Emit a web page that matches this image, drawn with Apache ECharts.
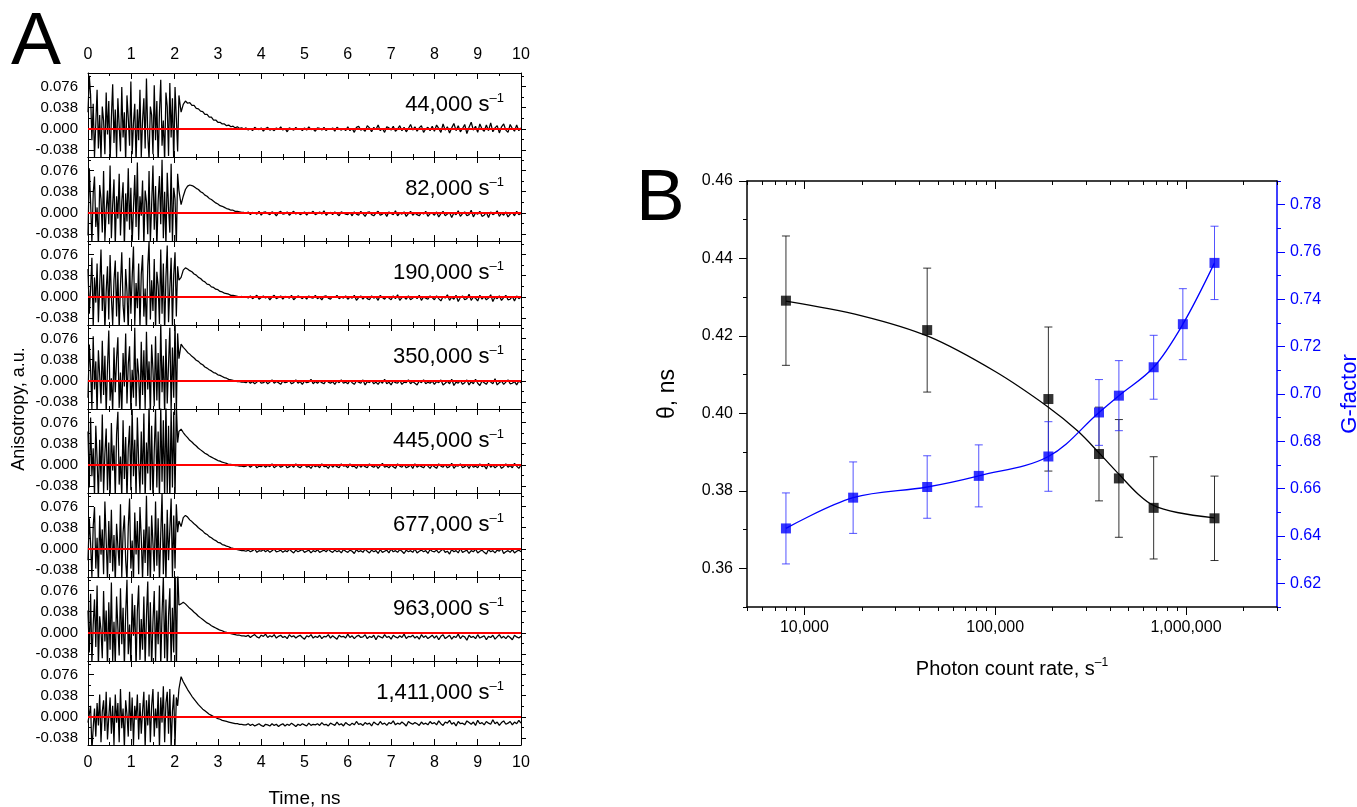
<!DOCTYPE html>
<html><head><meta charset="utf-8">
<script src="https://cdn.jsdelivr.net/npm/echarts@6/dist/echarts.min.js"></script>
<style>html,body{margin:0;padding:0;background:#fff}#c{width:1357px;height:807px}</style>
</head><body><div id="c"></div>
<script>
const FONT = '"Liberation Sans", Arial, Helvetica, sans-serif';

// ---------- Panel A: anisotropy traces (values in units of 0.001) ----------
const rateLabels = ['44,000', '82,000', '190,000', '350,000', '445,000', '677,000', '963,000', '1,411,000'];
const anisoTicks = [-0.038, 0, 0.038, 0.076];
const anisoMinorTicks = [-0.019, 0.019, 0.057, 0.095];

// noisy part before the pulse: t = 0 ... 2.10 ns, step 0.03 ns
const noise44k = [30,95,60,-20,45,-50,10,70,-35,25,-55,40,15,-45,65,-10,50,-60,20,80,-25,35,-50,55,5,-40,75,-15,30,-58,60,20,-30,85,-45,10,45,-60,35,-20,70,-50,15,55,-35,90,-10,-55,40,25,-45,78,-20,50,-62,30,88,-30,15,-58,65,40,-48,82,-15,55,-60,75,20,-40,60];
const noise82k = [-40,80,20,-55,35,65,-25,10,-60,50,25,-35,75,-50,5,40,-20,85,-45,15,60,-58,30,-10,70,-40,20,55,-62,35,-15,80,-30,45,-55,10,68,-25,90,-48,30,-5,58,-60,40,20,-38,75,-52,15,85,-30,48,-62,22,66,-20,95,-45,38,-58,72,10,-35,88,-50,45,25,-60,70,40];
const noise190k = [50,-30,15,70,-55,35,-10,60,-45,20,85,-25,40,-60,10,55,-40,75,0,-50,30,65,-35,45,-58,20,80,-15,-45,50,10,-62,70,-30,35,90,-50,25,-20,60,-55,40,75,-35,15,-60,55,100,-40,30,-25,68,-58,45,20,-48,85,-30,60,-62,35,92,-45,15,70,-55,40,80,-35,55,30];
const noise350k = [-30,65,20,-50,80,-15,35,-60,55,10,-40,72,-25,45,-58,25,90,-35,5,-55,60,-20,40,78,-48,15,-62,50,-10,85,-40,30,62,-55,20,-30,95,-45,40,10,-60,70,-25,55,-50,88,-15,35,-62,65,20,-45,80,-35,50,-58,105,-20,45,-60,75,-40,30,95,-55,60,-30,110,-62,85,40];
const noise445k = [60,-40,85,-20,30,-55,70,10,-60,45,-30,90,-50,20,65,-45,40,-62,75,-10,35,-58,55,95,-35,15,-60,80,-25,50,-62,30,70,-45,100,-20,45,-58,85,5,-50,60,-35,92,-62,40,-15,110,-45,70,-60,25,98,-40,60,-62,105,-30,80,-58,115,-50,70,-62,100,-40,95,-60,110,40,60];
const noise677k = [-20,55,10,-50,40,75,-35,20,-60,60,-10,35,-45,85,15,-55,50,-25,70,-40,25,-62,45,5,-30,80,-50,30,60,-20,-58,40,90,-35,15,-60,65,-10,50,-45,75,20,-55,35,-25,95,-48,40,-62,60,10,-40,85,-30,55,-58,25,100,-45,45,-60,70,-20,35,90,-50,60,-35,80,30,50];
const noise963k = [40,-35,70,-55,15,60,-25,85,-60,30,5,-45,75,-15,40,-62,55,-30,90,-50,20,-58,65,10,-40,80,-20,45,-60,35,95,-38,15,-55,70,-5,50,-62,40,85,-48,25,-30,65,-58,30,92,-42,55,-62,20,75,-50,40,-20,85,-60,35,100,-45,60,-62,30,80,-55,45,-35,140,-80,120,50];
const noise1411k = [-10,5,20,-60,-20,15,-35,25,-15,40,-45,10,30,-25,45,-40,0,35,-30,20,-50,40,-10,25,-45,50,-20,15,-55,30,5,-35,45,-25,35,-50,20,-5,40,-40,25,-30,10,45,-55,30,-15,40,-45,20,50,-35,15,-20,45,-55,35,-10,55,-45,25,45,-30,50,-55,10,40,-50,35,20,50];

// pulse, decay and tail: t = 2.15 ... 10.0 ns, step 0.05 ns
const tail44k = [30,44,50,46,47,42,42,37,36,32,31,26,26,21,21,16,16,12,12,9,9,6,7,4,5,2,4,1,2,0,
 2,-2,1,-3,3,0,-1,2,-4,1,3,-2,0,-3,2,-1,4,-2,1,-5,2,0,-2,3,-1,1,-3,2,-2,4,-1,0,-4,2,1,-2,3,-3,1,-1,2,-4,3,0,-2,1,-3,
 4,-3,1,-6,3,5,-2,0,-4,6,2,-5,3,-1,7,-3,1,-6,4,2,-2,5,-4,0,6,-3,3,-5,1,8,-2,4,-4,2,6,-6,0,3,-3,5,
 -4,7,1,-6,9,-2,4,-7,2,10,-3,6,-5,1,8,-8,3,12,-2,5,-6,9,0,-4,7,-3,11,-5,2,6,-7,4,9,-2,-6,8,1,-4,7,-3,2];
const tail82k = [15,30,42,48,50,49,47,44,42,38,36,32,30,26,24,21,18,16,13,12,10,8,7,5,5,3,3,2,1,1,
 -1,2,-3,1,0,-2,3,-4,1,2,-1,-3,2,0,-5,1,3,-2,-1,2,-4,0,3,-2,1,-3,-1,2,-4,1,0,3,-3,-1,2,-2,4,-4,0,1,-3,2,-1,-5,2,0,-2,
 -3,1,-5,2,-2,-4,3,-1,-6,1,2,-3,-5,0,3,-4,-2,1,-6,2,-1,-3,4,-5,0,-2,2,-6,-1,3,-4,0,-3,-5,1,-2,3,-6,-1,0,
 -4,2,-7,-1,3,-5,-2,1,-8,0,-3,4,-6,-1,2,-5,-3,5,-7,0,-2,3,-6,-4,1,-8,2,-3,-1,4,-6,0,-4,2,-7,-2,1,-5,3,-3,-1];
const tail190k = [35,48,52,50,47,45,41,39,35,33,29,27,23,22,18,17,14,13,10,9,7,6,5,3,3,2,1,0,1,-1,
 1,-2,2,-3,0,3,-4,-1,2,-2,1,-5,0,3,-3,-1,2,-4,1,0,-2,3,-5,-1,2,0,-3,1,-4,2,-1,-2,3,-3,0,-5,1,2,-2,-4,1,-1,3,-3,0,-2,2,
 -4,0,-2,3,-6,-1,2,-4,1,-3,-5,2,-2,0,-6,3,-1,-4,1,-2,-5,2,-3,4,-6,-1,0,-4,2,-5,-2,1,-3,3,-6,0,-2,-4,2,-1,
 -5,2,-3,-7,1,-2,4,-6,0,-4,3,-8,-1,2,-5,-3,5,-6,0,-2,-7,3,-4,1,-5,-2,4,-8,0,-3,2,-6,-1,3,-5,-4,1,-7,2,-3,0];
const tail350k = [66,60,56,51,48,44,41,37,35,31,29,25,23,20,18,15,14,11,10,8,6,5,3,2,1,0,-1,-1,-2,-2,
 -3,0,-4,-1,-5,-2,1,-4,-3,0,-5,-2,2,-4,-1,-3,-6,0,-3,-2,1,-5,-3,2,-4,-1,-6,0,-3,-2,3,-5,-1,-4,0,-3,-5,1,-2,-4,-1,-6,0,-3,2,-4,-2,
 -5,1,-3,-6,0,-2,-4,2,-7,-1,-3,1,-5,-2,-6,0,-4,3,-5,-2,-7,0,-3,-4,1,-6,-2,-3,2,-5,-1,-4,-7,0,-3,2,-5,-2,-4,0,
 -6,-1,-3,2,-7,-4,0,-5,3,-8,-2,-4,1,-6,-3,2,-7,-1,-5,3,-4,-8,0,-3,-6,1,-2,-5,4,-7,-3,0,-6,-2,2,-5,-4,-1,-7,0,-3];
const tail445k = [64,58,53,49,44,41,37,34,30,27,24,21,19,16,14,12,10,8,7,5,4,3,1,1,0,-1,-1,-2,-2,-3,
 -2,0,-4,-1,1,-5,-2,-3,0,-4,-1,-3,2,-5,-2,0,-4,-2,1,-5,-3,0,-4,2,-3,-5,-1,1,-4,-2,-6,0,-3,-1,-5,2,-3,-2,-6,1,-4,0,-3,-5,2,-2,-1,
 -5,2,-3,-2,-6,1,-4,0,-3,-5,2,-2,-4,0,-6,-1,3,-4,-2,-5,0,-3,-6,2,-2,-4,1,-5,-3,0,-6,2,-4,-1,-3,-5,1,-2,-6,0,
 -3,-6,2,-2,-4,1,-5,-3,3,-6,-1,-2,2,-5,-3,0,-6,1,-4,-2,-5,2,-3,-1,-7,3,-4,0,-5,-2,1,-6,-3,2,-4,-1,-5,3,-2,-6,0];
const tail677k = [40,56,60,57,52,49,45,42,38,35,32,28,26,22,20,17,15,12,11,8,7,5,4,2,1,0,-1,-2,-3,-3,
 -4,-2,-5,-3,0,-6,-3,-4,-1,-5,-2,-6,-3,0,-5,-4,-2,-6,-3,-5,0,-4,-7,-2,-5,-3,-1,-6,-4,-2,-7,-3,-5,-1,-6,-4,-2,-5,0,-4,-6,-2,-5,-3,-7,-1,-4,
 -6,-2,-4,-8,-1,-5,-3,-6,0,-4,-7,-2,-5,-3,-8,-1,-6,-4,-2,-7,0,-5,-3,-6,-1,-4,-8,-2,-5,-3,-6,0,-7,-4,-2,-5,-3,-8,-1,-4,
 -5,-2,-7,-3,0,-6,-4,-9,-1,-5,-3,-7,1,-6,-4,-2,-8,-3,-5,0,-7,-4,-2,-6,-9,-1,-5,-3,-7,-2,-4,1,-8,-5,-3,-6,-1,-7,-4,-2,-5];
const tail963k = [52,55,52,48,44,41,37,34,30,27,24,21,18,16,13,11,9,7,5,4,2,1,0,-1,-2,-3,-4,-4,-5,-5,
 -6,-4,-8,-5,-3,-7,-9,-4,-6,-2,-8,-5,-7,-3,-9,-6,-4,-8,-6,-10,-3,-7,-5,-9,-6,-4,-8,-11,-5,-7,-3,-9,-6,-8,-4,-10,-6,-7,-3,-9,-5,-8,-11,-4,-7,-6,-9,
 -2,-8,-5,-10,-6,-4,-8,-7,-3,-10,-6,-8,-4,-12,-5,-7,-9,-3,-8,-6,-11,-4,-7,-9,-5,-8,-2,-10,-6,-7,-4,-9,-6,-11,-3,-8,-5,-10,-7,-4,
 -9,-5,-12,-6,-3,-10,-7,-4,-11,-6,-8,-2,-10,-5,-7,-13,-4,-8,-6,-10,-3,-9,-7,-5,-12,-6,-8,-4,-11,-7,-3,-9,-6,-10,-5,-8,-12,-4,-7,-9,-6];
const tail1411k = [72,63,56,49,43,37,32,27,22,18,14,11,8,5,3,1,-1,-3,-4,-6,-7,-8,-9,-10,-11,-12,-12,-13,-13,-14,
 -14,-12,-15,-13,-16,-14,-12,-15,-17,-13,-14,-16,-12,-15,-13,-17,-14,-12,-16,-13,-15,-11,-14,-17,-13,-15,-12,-14,-16,-11,-15,-13,-14,-12,-15,-10,-14,-13,-16,-11,-13,-15,-9,-14,-12,-16,-10,
 -13,-15,-11,-14,-8,-13,-12,-15,-10,-13,-11,-16,-9,-12,-14,-8,-13,-11,-15,-10,-12,-7,-14,-11,-13,-9,-12,-16,-8,-11,-13,-10,-12,-15,-9,-13,-11,-14,-8,-12,
 -10,-14,-7,-12,-15,-9,-11,-6,-13,-10,-16,-8,-12,-11,-14,-7,-10,-13,-9,-15,-6,-12,-10,-14,-8,-11,-13,-5,-12,-9,-15,-10,-7,-13,-11,-8,-14,-9,-12,-6,-11];

const noiseSets = [noise44k, noise82k, noise190k, noise350k, noise445k, noise677k, noise963k, noise1411k];
const tailSets = [tail44k, tail82k, tail190k, tail350k, tail445k, tail677k, tail963k, tail1411k];
const noiseStep = 0.03, tailStart = 2.15, tailStep = 0.05;

// ---------- Panel B ----------
const thetaRate = [8000, 44000, 190000, 350000, 445000, 677000, 1411000];
const thetaVal = [0.4291, 0.4215, 0.4037, 0.3895, 0.3832, 0.3756, 0.3729];
const thetaErr = [0.0167, 0.0160, 0.0186, 0.0121, 0.0152, 0.0132, 0.0109];
const thetaFitRate = [8000, 20000, 45000, 100000, 190000, 270000, 350000, 445000, 560000, 677000, 900000, 1411000];
const thetaFitVal = [0.4290, 0.4252, 0.4198, 0.4108, 0.4016, 0.3955, 0.3898, 0.3843, 0.3792, 0.3762, 0.3744, 0.3730];
const gRate = [8000, 18000, 44000, 82000, 190000, 350000, 445000, 677000, 963000, 1411000];
const gVal = [0.6432, 0.6562, 0.6607, 0.6654, 0.6736, 0.6922, 0.6993, 0.7113, 0.7295, 0.7554];
const gErr = [0.0150, 0.0151, 0.0132, 0.0131, 0.0147, 0.0139, 0.0148, 0.0135, 0.0150, 0.0155];
const rateTicks = [10000, 100000, 1000000];
const rateMinorTicks = [5000,6000,7000,8000,9000,20000,30000,40000,50000,60000,70000,80000,90000,200000,300000,400000,500000,600000,700000,800000,900000,2000000,3000000];
const thetaTicks = [0.36, 0.38, 0.40, 0.42, 0.44, 0.46];
const thetaMinorTicks = [0.35, 0.37, 0.39, 0.41, 0.43, 0.45];
const gTicks = [0.62, 0.64, 0.66, 0.68, 0.70, 0.72, 0.74, 0.76, 0.78];
const gMinorTicks = [0.61, 0.63, 0.65, 0.67, 0.69, 0.71, 0.73, 0.75, 0.77, 0.79];

// ---------- build ----------
const A = {left: 88, width: 433, top: 73, h: 84};
const B = {left: 747, width: 530, top: 181, height: 426};
const grids = [], xAxes = [], yAxes = [], series = [], graphics = [];
const black = '#000';
const supRich = {
  m: {fontSize: 22, fontFamily: FONT, fill: '#000', lineHeight: 26},
  s: {fontSize: 13, fontFamily: FONT, fill: '#000', verticalAlign: 'top', lineHeight: 26}
};

noiseSets.forEach((noise, i) => {
  grids.push({left: A.left, width: A.width, top: A.top + A.h * i, height: A.h, outerBoundsMode: 'none'});
  const xBase = {
    gridIndex: i, type: 'value', min: 0, max: 10, interval: 1,
    splitLine: {show: false},
    axisLine: {onZero: false, lineStyle: {color: black, width: 1}},
    axisTick: {inside: true, length: 6, lineStyle: {color: black}},
    minorTick: {show: true, splitNumber: 2, length: 3, lineStyle: {color: black}}
  };
  xAxes.push(Object.assign({}, xBase, {
    position: 'bottom',
    axisLabel: {show: i === 7, fontSize: 16, color: black, margin: 10, fontFamily: FONT},
    name: i === 7 ? 'Time, ns' : '', nameLocation: 'middle', nameGap: 44,
    nameTextStyle: {fontSize: 19, color: black, fontFamily: FONT}
  }));
  xAxes.push(Object.assign({}, xBase, {
    position: 'top',
    axisLabel: {show: i === 0, fontSize: 16, color: black, margin: 10, fontFamily: FONT}
  }));
  const yBase = {gridIndex: i, type: 'value', min: -0.05, max: 0.10, splitLine: {show: false}};
  yAxes.push(Object.assign({}, yBase, {
    position: 'left',
    axisLine: {show: true, onZero: false, lineStyle: {color: black, width: 1}},
    axisTick: {inside: true, length: 6, customValues: anisoTicks, lineStyle: {color: black}},
    axisLabel: {customValues: anisoTicks, formatter: v => v.toFixed(3), fontSize: 15, color: black, margin: 10, fontFamily: FONT}
  }));
  yAxes.push(Object.assign({}, yBase, {
    position: 'left',
    axisLine: {show: false, onZero: false},
    axisTick: {inside: true, length: 3, customValues: anisoMinorTicks, lineStyle: {color: black}},
    axisLabel: {show: false}
  }));
  yAxes.push(Object.assign({}, yBase, {
    position: 'right',
    axisLine: {show: true, onZero: false, lineStyle: {color: black, width: 1}},
    axisTick: {inside: false, length: 5, customValues: anisoTicks, lineStyle: {color: black}},
    axisLabel: {show: false}
  }));
  yAxes.push(Object.assign({}, yBase, {
    position: 'right',
    axisLine: {show: false, onZero: false},
    axisTick: {inside: false, length: 3, customValues: anisoMinorTicks, lineStyle: {color: black}},
    axisLabel: {show: false}
  }));
  const data = [];
  noise.forEach((v, k) => data.push([+(k * noiseStep).toFixed(3), v / 1000]));
  tailSets[i].forEach((v, k) => data.push([+(tailStart + k * tailStep).toFixed(3), v / 1000]));
  series.push({
    type: 'line', xAxisIndex: 2 * i, yAxisIndex: 4 * i, data: data,
    showSymbol: false, symbol: 'none', silent: true, clip: true,
    lineStyle: {color: black, width: 1.25},
    markLine: {
      silent: true, symbol: 'none', animation: false,
      label: {show: false},
      lineStyle: {color: '#ff0000', width: 2, type: 'solid'},
      data: [{yAxis: 0}]
    },
    z: 2
  });
  graphics.push({
    type: 'text', x: 504, y: A.top + A.h * i + 32, z: 10,
    style: {text: '{m|' + rateLabels[i] + ' s}{s|\u20131}', align: 'right', verticalAlign: 'middle', rich: supRich}
  });
});

// Panel B grid (index 8)
grids.push({left: B.left, width: B.width, top: B.top, height: B.height, outerBoundsMode: 'none'});
const gi = 8;
const xb = xAxes.length;
const logBase = {gridIndex: gi, type: 'log', logBase: 10, min: 5000, max: 3000000, splitLine: {show: false}};
xAxes.push(Object.assign({}, logBase, {
  position: 'bottom',
  axisLine: {onZero: false, lineStyle: {color: black, width: 1.5}},
  axisTick: {inside: false, length: 8, customValues: rateTicks, lineStyle: {color: black, width: 1}},
  axisLabel: {customValues: rateTicks, formatter: v => Math.round(v).toLocaleString('en-US'), fontSize: 16, color: black, margin: 13, fontFamily: FONT},
  name: '{t|Photon count rate, s}{s|\u20131}', nameLocation: 'middle', nameGap: 50,
  nameTextStyle: {rich: {
    t: {fontSize: 20, fontFamily: FONT, color: black, lineHeight: 24},
    s: {fontSize: 12, fontFamily: FONT, color: black, verticalAlign: 'top', lineHeight: 24}
  }}
}));
xAxes.push(Object.assign({}, logBase, {
  position: 'bottom',
  axisLine: {show: false, onZero: false},
  axisTick: {inside: false, length: 4, customValues: rateMinorTicks, lineStyle: {color: black}},
  axisLabel: {show: false}
}));
xAxes.push(Object.assign({}, logBase, {
  position: 'top',
  axisLine: {onZero: false, lineStyle: {color: black, width: 1.5}},
  axisTick: {inside: true, length: 8, customValues: rateTicks, lineStyle: {color: black}},
  axisLabel: {show: false}
}));
xAxes.push(Object.assign({}, logBase, {
  position: 'top',
  axisLine: {show: false, onZero: false},
  axisTick: {inside: true, length: 4, customValues: rateMinorTicks, lineStyle: {color: black}},
  axisLabel: {show: false}
}));

const yl = yAxes.length;
yAxes.push({
  gridIndex: gi, type: 'value', min: 0.35, max: 0.46, position: 'left', splitLine: {show: false},
  axisLine: {show: true, onZero: false, lineStyle: {color: black, width: 1.5}},
  axisTick: {inside: false, length: 8, customValues: thetaTicks, lineStyle: {color: black}},
  axisLabel: {customValues: thetaTicks, formatter: v => v.toFixed(2), fontSize: 16, color: black, margin: 14, fontFamily: FONT},
  name: '\u03b8, ns', nameLocation: 'middle', nameGap: 68,
  nameTextStyle: {fontSize: 23, color: black, fontFamily: FONT}
});
yAxes.push({
  gridIndex: gi, type: 'value', min: 0.35, max: 0.46, position: 'left', splitLine: {show: false},
  axisLine: {show: false, onZero: false},
  axisTick: {inside: false, length: 4, customValues: thetaMinorTicks, lineStyle: {color: black}},
  axisLabel: {show: false}
});
const blue = '#0000ff';
yAxes.push({
  gridIndex: gi, type: 'value', min: 0.61, max: 0.79, position: 'right', splitLine: {show: false},
  axisLine: {show: true, onZero: false, lineStyle: {color: blue, width: 1.5}},
  axisTick: {inside: false, length: 8, customValues: gTicks, lineStyle: {color: blue}},
  axisLabel: {customValues: gTicks, formatter: v => v.toFixed(2), fontSize: 16, color: blue, margin: 13, fontFamily: FONT},
  name: 'G-factor', nameLocation: 'middle', nameGap: 62,
  nameTextStyle: {fontSize: 22, color: blue, fontFamily: FONT}
});
yAxes.push({
  gridIndex: gi, type: 'value', min: 0.61, max: 0.79, position: 'right', splitLine: {show: false},
  axisLine: {show: false, onZero: false},
  axisTick: {inside: false, length: 4, customValues: gMinorTicks, lineStyle: {color: blue}},
  axisLabel: {show: false}
});

function errRender(color) {
  return function (params, api) {
    const x = api.value(0), lo = api.value(1), hi = api.value(2);
    const a = api.coord([x, hi]), b = api.coord([x, lo]);
    const c = 4, st = {stroke: color, lineWidth: 1};
    return {type: 'group', children: [
      {type: 'line', shape: {x1: a[0], y1: a[1], x2: b[0], y2: b[1]}, style: st},
      {type: 'line', shape: {x1: a[0] - c, y1: a[1], x2: a[0] + c, y2: a[1]}, style: st},
      {type: 'line', shape: {x1: b[0] - c, y1: b[1], x2: b[0] + c, y2: b[1]}, style: st}
    ]};
  };
}

series.push({
  type: 'line', xAxisIndex: xb, yAxisIndex: yl, smooth: 0.35, showSymbol: false, symbol: 'none', silent: true,
  data: thetaFitRate.map((r, k) => [r, thetaFitVal[k]]),
  lineStyle: {color: black, width: 1.3}, z: 3
});
series.push({
  type: 'custom', xAxisIndex: xb, yAxisIndex: yl, silent: true,
  renderItem: errRender('rgba(0,0,0,0.8)'), encode: {x: 0, y: [1, 2]},
  data: thetaRate.map((r, k) => [r, thetaVal[k] - thetaErr[k], thetaVal[k] + thetaErr[k]]), z: 4
});
series.push({
  type: 'scatter', xAxisIndex: xb, yAxisIndex: yl, symbol: 'rect', symbolSize: 10, silent: true,
  itemStyle: {color: black}, data: thetaRate.map((r, k) => [r, thetaVal[k]]), z: 6
});
series.push({
  type: 'line', xAxisIndex: xb, yAxisIndex: yl + 2, smooth: 0.35, showSymbol: false, symbol: 'none', silent: true,
  data: gRate.map((r, k) => [r, gVal[k]]),
  lineStyle: {color: blue, width: 1.3}, z: 3
});
series.push({
  type: 'custom', xAxisIndex: xb, yAxisIndex: yl + 2, silent: true,
  renderItem: errRender('rgba(40,40,255,0.8)'), encode: {x: 0, y: [1, 2]},
  data: gRate.map((r, k) => [r, gVal[k] - gErr[k], gVal[k] + gErr[k]]), z: 4
});
series.push({
  type: 'scatter', xAxisIndex: xb, yAxisIndex: yl + 2, symbol: 'rect', symbolSize: 10, silent: true,
  itemStyle: {color: blue}, data: gRate.map((r, k) => [r, gVal[k]]), z: 6
});

graphics.push({type: 'text', x: 11, y: 43, style: {text: 'A', fontSize: 75, fontFamily: FONT, fill: '#000', align: 'left', verticalAlign: 'middle'}});
graphics.push({type: 'text', x: 636, y: 200, style: {text: 'B', fontSize: 73, fontFamily: FONT, fill: '#000', align: 'left', verticalAlign: 'middle'}});
graphics.push({type: 'text', x: 19, y: A.top + A.h * 4, rotation: Math.PI / 2,
  style: {text: 'Anisotropy, a.u.', fontSize: 18, fontFamily: FONT, fill: '#000', align: 'center', verticalAlign: 'middle'}});

const chart = echarts.init(document.getElementById('c'), null, {renderer: 'canvas'});
chart.setOption({
  animation: false,
  backgroundColor: '#fff',
  textStyle: {fontFamily: FONT},
  grid: grids, xAxis: xAxes, yAxis: yAxes, series: series, graphic: graphics
});
</script></body></html>
